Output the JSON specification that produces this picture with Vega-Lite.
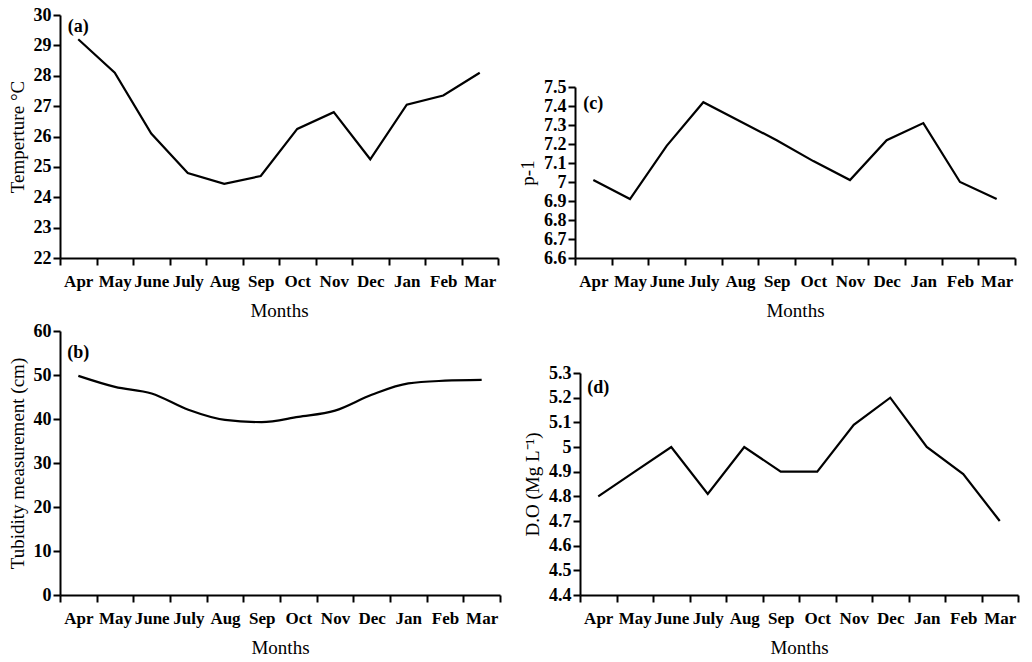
{
  "$schema": "https://vega.github.io/schema/vega-lite/v6.json",
  "background": "white",
  "padding": {"left": 8, "top": 6, "right": 5, "bottom": 0},
  "config": {
    "view": {"stroke": null},
    "font": "Liberation Serif",
    "axis": {
      "grid": false,
      "domainColor": "black",
      "domainWidth": 2,
      "tickColor": "black",
      "tickWidth": 2,
      "tickSize": 7,
      "labelColor": "black",
      "labelFont": "Liberation Serif",
      "labelFontWeight": "bold",
      "labelFontSize": 18,
      "labelPadding": 2,
      "labelOverlap": false,
      "titleColor": "black",
      "titleFont": "Liberation Serif",
      "titleFontWeight": "normal",
      "titleFontSize": 19
    },
    "axisY": {"titlePadding": 6, "labelOverlap": false},
    "axisX": {"labelFontSize": 17, "labelAngle": 0, "labelPadding": 8, "tickBand": "extent", "labelFlush": false, "titlePadding": 12},
    "line": {"color": "black", "strokeWidth": 2.2},
    "text": {"font": "Liberation Serif", "fontWeight": "bold", "fontSize": 18, "color": "black"}
  },
  "datasets": {
    "temp": [
      {"month": "Apr", "v": 29.2}, {"month": "May", "v": 28.1}, {"month": "June", "v": 26.1},
      {"month": "July", "v": 24.8}, {"month": "Aug", "v": 24.44}, {"month": "Sep", "v": 24.7},
      {"month": "Oct", "v": 26.25}, {"month": "Nov", "v": 26.8}, {"month": "Dec", "v": 25.25},
      {"month": "Jan", "v": 27.05}, {"month": "Feb", "v": 27.35}, {"month": "Mar", "v": 28.1}
    ],
    "ph": [
      {"month": "Apr", "v": 7.01}, {"month": "May", "v": 6.91}, {"month": "June", "v": 7.19},
      {"month": "July", "v": 7.42}, {"month": "Aug", "v": 7.32}, {"month": "Sep", "v": 7.22},
      {"month": "Oct", "v": 7.11}, {"month": "Nov", "v": 7.01}, {"month": "Dec", "v": 7.22},
      {"month": "Jan", "v": 7.31}, {"month": "Feb", "v": 7.0}, {"month": "Mar", "v": 6.91}
    ],
    "turb": [
      {"month": "Apr", "v": 49.8}, {"month": "May", "v": 47.3}, {"month": "June", "v": 45.8},
      {"month": "July", "v": 42.1}, {"month": "Aug", "v": 39.8}, {"month": "Sep", "v": 39.3},
      {"month": "Oct", "v": 40.5}, {"month": "Nov", "v": 41.9}, {"month": "Dec", "v": 45.5},
      {"month": "Jan", "v": 48.1}, {"month": "Feb", "v": 48.7}, {"month": "Mar", "v": 48.9}
    ],
    "do": [
      {"month": "Apr", "v": 4.8}, {"month": "May", "v": 4.9}, {"month": "June", "v": 5.0},
      {"month": "July", "v": 4.81}, {"month": "Aug", "v": 5.0}, {"month": "Sep", "v": 4.9},
      {"month": "Oct", "v": 4.9}, {"month": "Nov", "v": 5.09}, {"month": "Dec", "v": 5.2},
      {"month": "Jan", "v": 5.0}, {"month": "Feb", "v": 4.89}, {"month": "Mar", "v": 4.7}
    ],
    "labels": [
      {"panel": "a", "month": "Apr", "v": 29.6, "t": "(a)"},
      {"panel": "c", "month": "Apr", "v": 7.41, "t": "(c)"},
      {"panel": "b", "month": "Apr", "v": 55, "t": "(b)"},
      {"panel": "d", "month": "Apr", "v": 5.24, "t": "(d)"}
    ]
  },
  "spacing": 2,
  "vconcat": [
    {
      "spacing": 19,
      "hconcat": [
        {
          "width": 438, "height": 243,
          "encoding": {
            "x": {"field": "month", "type": "ordinal", "sort": ["Apr","May","June","July","Aug","Sep","Oct","Nov","Dec","Jan","Feb","Mar"], "scale": {"type": "band", "paddingInner": 0, "paddingOuter": 0}, "axis": {"title": "Months"}},
            "y": {"field": "v", "type": "quantitative", "scale": {"domain": [22, 30], "zero": false, "nice": false}, "axis": {"title": "Temperture °C", "values": [22,23,24,25,26,27,28,29,30], "labelOverlap": false}}
          },
          "layer": [
            {"data": {"name": "temp"}, "mark": {"type": "line"}},
            {
              "data": {"name": "labels"},
              "transform": [{"filter": "datum.panel == 'a'"}],
              "mark": {"type": "text"},
              "encoding": {"text": {"field": "t"}}
            }
          ]
        },
        {
          "width": 440, "height": 243,
          "encoding": {
            "x": {"field": "month", "type": "ordinal", "sort": ["Apr","May","June","July","Aug","Sep","Oct","Nov","Dec","Jan","Feb","Mar"], "scale": {"type": "band", "paddingInner": 0, "paddingOuter": 0}, "axis": {"title": "Months"}},
            "y": {"field": "v", "type": "quantitative", "scale": {"domain": [6.6, 7.5], "zero": false, "nice": false, "range": [243, 72]}, "axis": {"title": "p-1", "values": [6.6,6.7,6.8,6.9,7.0,7.1,7.2,7.3,7.4,7.5], "format": ".1~f", "labelOverlap": false}}
          },
          "layer": [
            {"data": {"name": "ph"}, "mark": {"type": "line"}},
            {
              "data": {"name": "labels"},
              "transform": [{"filter": "datum.panel == 'c'"}],
              "mark": {"type": "text"},
              "encoding": {"text": {"field": "t"}}
            }
          ]
        }
      ]
    },
    {
      "spacing": 22,
      "hconcat": [
        {
          "width": 440, "height": 264,
          "encoding": {
            "x": {"field": "month", "type": "ordinal", "sort": ["Apr","May","June","July","Aug","Sep","Oct","Nov","Dec","Jan","Feb","Mar"], "scale": {"type": "band", "paddingInner": 0, "paddingOuter": 0}, "axis": {"title": "Months"}},
            "y": {"field": "v", "type": "quantitative", "scale": {"domain": [0, 60], "nice": false}, "axis": {"title": "Tubidity measurement (cm)", "values": [0,10,20,30,40,50,60], "labelOverlap": false}}
          },
          "layer": [
            {"data": {"name": "turb"}, "mark": {"type": "line", "interpolate": "monotone"}},
            {
              "data": {"name": "labels"},
              "transform": [{"filter": "datum.panel == 'b'"}],
              "mark": {"type": "text"},
              "encoding": {"text": {"field": "t"}}
            }
          ]
        },
        {
          "width": 438, "height": 264,
          "encoding": {
            "x": {"field": "month", "type": "ordinal", "sort": ["Apr","May","June","July","Aug","Sep","Oct","Nov","Dec","Jan","Feb","Mar"], "scale": {"type": "band", "paddingInner": 0, "paddingOuter": 0}, "axis": {"title": "Months"}},
            "y": {"field": "v", "type": "quantitative", "scale": {"domain": [4.4, 5.3], "zero": false, "nice": false, "range": [264, 42]}, "axis": {"title": "D.O (Mg L⁻¹)", "values": [4.4,4.5,4.6,4.7,4.8,4.9,5.0,5.1,5.2,5.3], "format": ".1~f", "labelOverlap": false}}
          },
          "layer": [
            {"data": {"name": "do"}, "mark": {"type": "line"}},
            {
              "data": {"name": "labels"},
              "transform": [{"filter": "datum.panel == 'd'"}],
              "mark": {"type": "text"},
              "encoding": {"text": {"field": "t"}}
            }
          ]
        }
      ]
    }
  ]
}
